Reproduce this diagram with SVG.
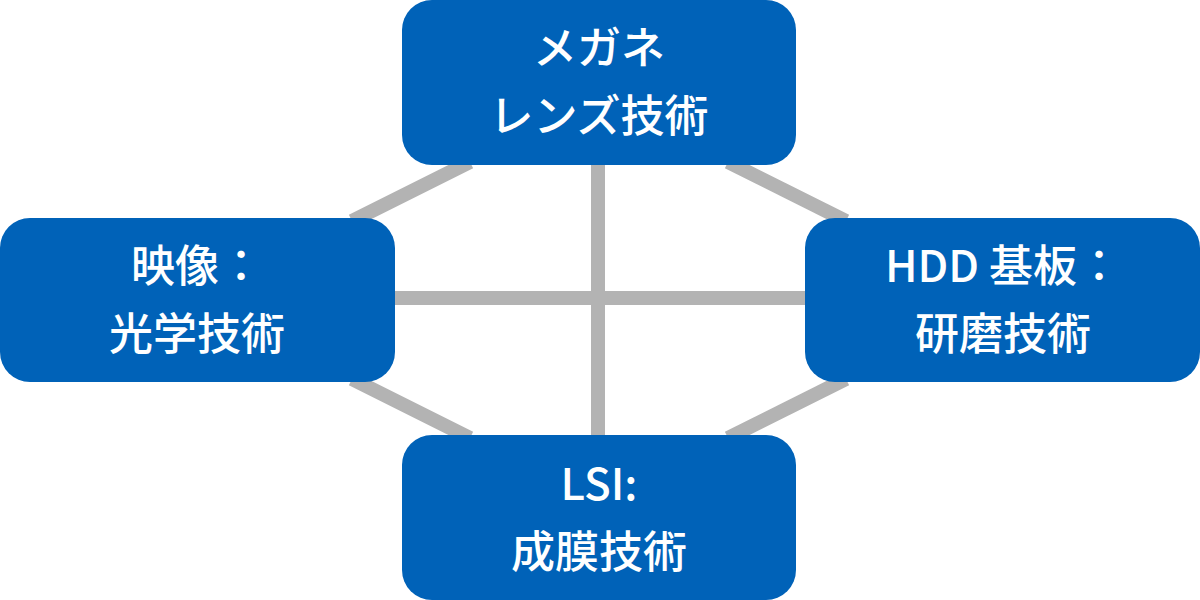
<svg xmlns="http://www.w3.org/2000/svg" width="1200" height="600" viewBox="0 0 1200 600">
<style>
.n{fill:#0062b8}
.t{fill:#fff;font-family:"Noto Sans CJK JP","Noto Sans",sans-serif;font-size:44px;font-weight:500;text-anchor:middle}
.c line{stroke:#b3b3b3;stroke-width:14}
</style>
<rect width="1200" height="600" fill="#fff"/>
<g class="c" id="connectors">
<line x1="598" y1="160" x2="598" y2="440"/>
<line x1="390" y1="298" x2="810" y2="298"/>
<line x1="470" y1="162" x2="352" y2="221"/>
<line x1="728" y1="162" x2="846" y2="221"/>
<line x1="352" y1="379" x2="470" y2="438"/>
<line x1="846" y1="379" x2="728" y2="438"/>
</g>
<g id="top"><rect class="n" x="402" y="0" width="394" height="165" rx="30"/><text class="t" x="599" y="64">メガネ</text><text class="t" x="599" y="132">レンズ技術</text></g>
<g id="left"><rect class="n" x="0" y="218" width="395" height="164" rx="30"/><text class="t" x="197" y="282">映像：</text><text class="t" x="197" y="350">光学技術</text></g>
<g id="right"><rect class="n" x="805" y="218" width="395" height="164" rx="30"/><text class="t" x="1003" y="282">HDD 基板：</text><text class="t" x="1003" y="350">研磨技術</text></g>
<g id="bottom"><rect class="n" x="402" y="435" width="394" height="165" rx="30"/><text class="t" x="599" y="500">LSI:</text><text class="t" x="599" y="568">成膜技術</text></g>
</svg>
